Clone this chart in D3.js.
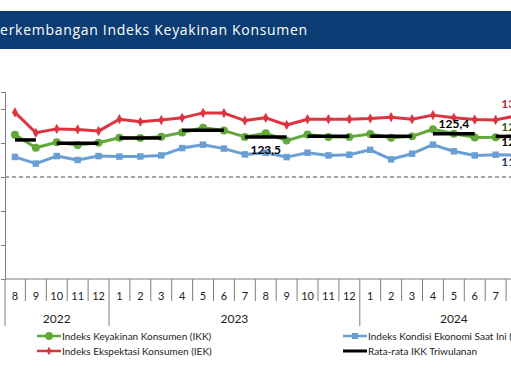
<!DOCTYPE html>
<html>
<head>
<meta charset="utf-8">
<script src="https://cdn.jsdelivr.net/npm/d3@7"></script>
<style>
  body { margin: 0; background: #fff; }
  svg { display: block; font-family: Lato, "Open Sans", sans-serif; }
</style>
</head>
<body>
<div id="chart"></div>
<script>
// months on the category axis (Sep 2024 slot is empty)
const months = [
  "2022-08", "2022-09", "2022-10", "2022-11", "2022-12",
  "2023-01", "2023-02", "2023-03", "2023-04", "2023-05", "2023-06",
  "2023-07", "2023-08", "2023-09", "2023-10", "2023-11", "2023-12",
  "2024-01", "2024-02", "2024-03", "2024-04", "2024-05", "2024-06",
  "2024-07", "2024-08", "2024-09"
];
const years = ["2022", "2023", "2024"];

// Aug 2022 .. Aug 2024
const ikk = [124.9, 117.2, 120.4, 118.8, 120.1, 123.1, 122.9, 123.7, 126.2, 129.0, 127.3,
             123.6, 125.8, 121.4, 125.0, 123.5, 123.6, 125.3, 123.1, 123.9, 128.1, 125.5,
             123.3, 123.4, 124.4];
const iek = [138.0, 126.0, 128.3, 128.0, 127.0, 134.0, 132.5, 133.5, 134.8, 137.7, 137.6,
             133.2, 134.8, 130.6, 134.0, 134.0, 134.0, 134.4, 135.2, 134.0, 136.4, 134.8,
             133.8, 133.6, 136.0];
const ike = [111.8, 107.9, 112.3, 110.0, 112.3, 112.0, 112.1, 112.7, 117.0, 119.0, 116.7,
             113.3, 114.3, 111.7, 114.3, 112.7, 113.1, 116.0, 110.4, 113.7, 119.0, 115.1,
             112.7, 113.1, 112.9];

// quarterly IKK averages
const quarterFrom = ["2022-08", "2022-10", "2023-01", "2023-04", "2023-07", "2023-10", "2024-01", "2024-04", "2024-07"];
const quarterTo   = ["2022-09", "2022-12", "2023-03", "2023-06", "2023-09", "2023-12", "2024-03", "2024-06", "2024-08"];
const quarterAvg  = [121.8, 119.9, 123.0, 127.5, 123.5, 123.9, 124.0, 125.4, 123.9];

const width = 511, height = 373;
const fmt = d3.formatLocale({decimal: ",", thousands: ".", grouping: [3], currency: ["Rp", ""]}).format(".1f");

const svg = d3.select("#chart").append("svg")
    .attr("width", width)
    .attr("height", height);

// title bar
svg.append("rect")
    .attr("x", 0).attr("y", 11)
    .attr("width", width).attr("height", 38)
    .attr("fill", "#0c3c74");
svg.append("text")
    .attr("x", -9).attr("y", 35)
    .attr("fill", "#fff")
    .attr("font-family", "'Open Sans', sans-serif")
    .attr("font-size", 14)
    .attr("letter-spacing", 0.7)
    .text("Perkembangan Indeks Keyakinan Konsumen");

const x = d3.scaleBand()
    .domain(months)
    .range([4.5, 4.5 + months.length * 20.9])
    .paddingInner(0).paddingOuter(0);
const bw = x.bandwidth();
const cx = m => x(m) + bw / 2;

const y = d3.scaleLinear().domain([40, 150]).range([279, 92]);

// y axis (labels cropped in the source)
const yAxis = svg.append("g")
    .attr("transform", "translate(5,0)")
    .call(d3.axisLeft(y).tickValues([40, 60, 80, 100, 120, 140]).tickSize(4).tickFormat(""));
yAxis.selectAll("path, line").attr("stroke", "#7f7f7f");

// x baseline
svg.append("line")
    .attr("x1", 5).attr("x2", width)
    .attr("y1", y(40)).attr("y2", y(40))
    .attr("stroke", "#7f7f7f");

// month separators
svg.append("g").selectAll("line")
    .data(months)
    .join("line")
    .attr("x1", d => x(d) + bw).attr("x2", d => x(d) + bw)
    .attr("y1", y(40))
    .attr("y2", d => d.endsWith("-12") ? 326 : 301)
    .attr("stroke", "#7f7f7f");
svg.append("line")
    .attr("x1", 5).attr("x2", 5).attr("y1", y(40)).attr("y2", 326)
    .attr("stroke", "#7f7f7f");

// month ticks, only those that fall inside the view
svg.append("g").selectAll("text")
    .data(months.filter(m => cx(m) < width - 6))
    .join("text")
    .attr("x", cx)
    .attr("y", 295)
    .attr("text-anchor", "middle")
    .attr("dominant-baseline", "central")
    .attr("font-size", 11)
    .attr("fill", "#222")
    .text(d => +d.slice(5));

svg.append("g").selectAll("text")
    .data(years)
    .join("text")
    .attr("x", yr => {
        const ms = months.filter(m => m.startsWith(yr));
        return (x(ms[0]) + x(ms[ms.length - 1]) + bw) / 2;
    })
    .attr("y", 318)
    .attr("text-anchor", "middle")
    .attr("dominant-baseline", "central")
    .attr("font-size", 12)
    .attr("fill", "#222")
    .text(d => d);

// 100 threshold
svg.append("line")
    .attr("x1", 5).attr("x2", width)
    .attr("y1", y(100)).attr("y2", y(100))
    .attr("stroke", "#8a8a8a")
    .attr("stroke-width", 1.5)
    .attr("stroke-dasharray", "4,3");

const series = [
    {key: "IEK", values: iek, color: "#dc3540", marker: "diamond"},
    {key: "IKK", values: ikk, color: "#62a83a", marker: "circle"},
    {key: "IKE", values: ike, color: "#6a9fd6", marker: "square"}
];

const line = d3.line()
    .x((d, i) => cx(months[i]))
    .y(d => y(d));

series.forEach(s => {
    const g = svg.append("g");
    g.append("path")
        .attr("d", line(s.values))
        .attr("fill", "none")
        .attr("stroke", s.color)
        .attr("stroke-width", 3)
        .attr("stroke-linejoin", "round");
    const sym = s.marker === "circle" ? d3.symbolCircle : s.marker === "square" ? d3.symbolSquare : d3.symbolDiamond;
    const size = s.marker === "circle" ? 50 : s.marker === "square" ? 42 : 30;
    g.selectAll("path.pt")
        .data(s.values)
        .join("path")
        .attr("class", "pt")
        .attr("transform", (d, i) => `translate(${cx(months[i])},${y(d)})`)
        .attr("d", d3.symbol(sym, size))
        .attr("fill", s.color);
});

// quarterly averages
svg.append("g").selectAll("line")
    .data(quarterAvg)
    .join("line")
    .attr("x1", (d, i) => cx(quarterFrom[i]))
    .attr("x2", (d, i) => cx(quarterTo[i]))
    .attr("y1", d => y(d)).attr("y2", d => y(d))
    .attr("stroke", "#000")
    .attr("stroke-width", 3.5);

// data labels
const lab = (px, py, txt, color) => svg.append("text")
    .attr("x", px).attr("y", py)
    .attr("text-anchor", "middle")
    .attr("dominant-baseline", "central")
    .attr("font-size", 12)
    .attr("font-weight", "bold")
    .attr("fill", color)
    .text(txt);

lab(cx("2023-08"), y(quarterAvg[4]) + 12, fmt(quarterAvg[4]), "#000");
lab(cx("2024-05"), y(quarterAvg[7]) - 10, fmt(quarterAvg[7]), "#000");

const last = ikk.length - 1;
const lm = months[last];
lab(cx(lm), y(iek[last]) - 12, fmt(iek[last]), "#c0232c");
lab(cx(lm), y(ikk[last]) - 9, fmt(ikk[last]), "#375623");
lab(cx(lm), y(quarterAvg[8]) + 5, fmt(quarterAvg[8]), "#000");
lab(cx(lm), y(ike[last]) + 6, fmt(ike[last]), "#1f3864");

// legend
const legend = [
    {label: "Indeks Keyakinan Konsumen (IKK)", color: "#62a83a", marker: d3.symbolCircle, size: 50, lx: 37, ly: 336},
    {label: "Indeks Kondisi Ekonomi Saat Ini (IKE)", color: "#6a9fd6", marker: d3.symbolSquare, size: 36, lx: 343, ly: 336},
    {label: "Indeks Ekspektasi Konsumen (IEK)", color: "#dc3540", marker: d3.symbolDiamond, size: 20, lx: 37, ly: 351},
    {label: "Rata-rata IKK Triwulanan", color: "#000", marker: null, size: 0, lx: 343, ly: 351}
];
const lg = svg.append("g").selectAll("g")
    .data(legend)
    .join("g")
    .attr("transform", d => `translate(${d.lx},${d.ly})`);
lg.append("line")
    .attr("x1", 0).attr("x2", 24)
    .attr("stroke", d => d.color)
    .attr("stroke-width", d => d.marker ? 2.5 : 3);
lg.filter(d => d.marker).append("path")
    .attr("transform", "translate(12,0)")
    .attr("d", d => d3.symbol(d.marker, d.size)())
    .attr("fill", d => d.color);
lg.append("text")
    .attr("x", 25)
    .attr("dominant-baseline", "central")
    .attr("font-size", 10)
    .attr("fill", "#222")
    .text(d => d.label);
</script>
</body>
</html>
